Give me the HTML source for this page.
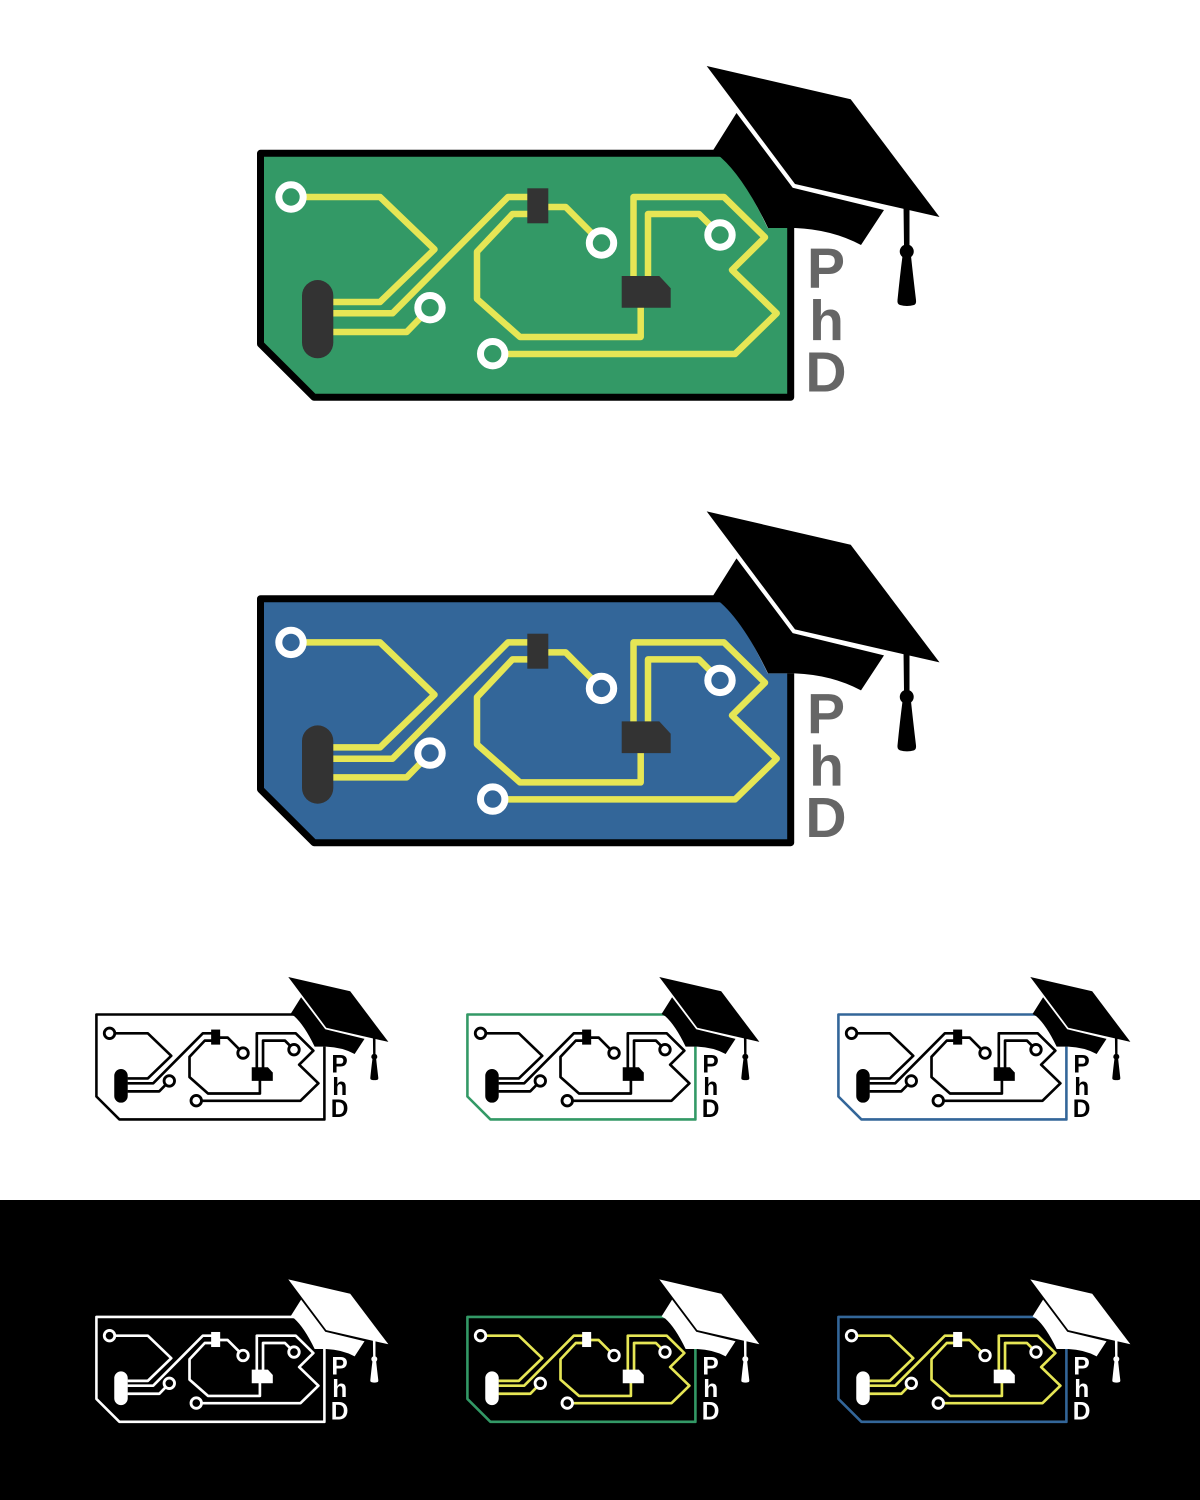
<!DOCTYPE html>
<html><head><meta charset="utf-8"><style>
html,body{margin:0;padding:0;background:#fff}
svg{display:block}
text{font-family:"Liberation Sans",sans-serif;font-weight:700;font-size:57px;text-anchor:middle}
.b{fill:var(--bf);stroke:none}
.o{fill:none;stroke:var(--bs);stroke-width:var(--bw);stroke-linejoin:round}
.t{fill:none;stroke:var(--tr);stroke-width:var(--tw);stroke-linejoin:round}
.p{fill:var(--pf);stroke:var(--ps);stroke-width:var(--pw)}
.c{fill:var(--ch)}
.h{fill:var(--hat)}
.big{--tw:6.5;--bw:7;--pw:7;--bs:#000;--hat:#000;--ch:#333;--tr:#e6e655;--ps:#fff}
.sm{--tw:6.2;--bw:6;--pw:6.6;--bf:none}
</style></head><body>
<svg width="1200" height="1500" viewBox="0 0 1200 1500" xmlns="http://www.w3.org/2000/svg">
<defs><g id="logo">
<path class="b" d="M722 153.3V157.3Q742 174 767.7 228H790.7V397.3H314L260.5 344V153.3Z"/>
<path class="o" d="M790.7 228V397.3H314L260.5 344V153.3H722"/>
<g class="t">
<path d="M291 197H380L434.5 249.3L380 302H333"/>
<path d="M333 313.3H392.5L508 197H530"/>
<path d="M333 332H406.7L430 308"/>
<path d="M530 214H512.5L477 251.7V299L520 337H640.7V300"/>
<path d="M492.7 354H735L776.7 313.3L732 270L765 237.3L724 197H633.5V280"/>
<path d="M648 280V214H699L720 235"/>
<path d="M545 207H565.7L601.5 243"/>
</g>
<circle class="p" cx="291" cy="197" r="12.2"/>
<circle class="p" cx="430" cy="307.7" r="12.2"/>
<circle class="p" cx="492.7" cy="353.7" r="12.2"/>
<circle class="p" cx="601.5" cy="243" r="12.2"/>
<circle class="p" cx="720" cy="235" r="12.2"/>
<rect class="c" x="527.3" y="188.3" width="21" height="35"/>
<rect class="c" x="302" y="280" width="31.3" height="78.3" rx="15.65"/>
<path class="c" d="M621.7 276H659.3L670.7 288.3V307.7H621.7Z"/>
<path class="h" d="M712 152L736.5 113L792.7 187.7L884 210L861 245Q832 229.5 795 228H768Q744 178 720.7 157.3Z"/>
<path class="h" d="M706.7 66L850.7 99.3L939.5 217L795 184Z"/>
<path class="h" d="M903.5 205H909.5V245A7 7 0 1 1 904 245Z"/>
<path class="h" d="M902.5 256H911Q913 275 916 300Q916.5 304 914 305Q907 307 900 305Q897 304 897.5 300Q900 275 902.5 256Z"/>
</g></defs>

<rect x="0" y="0" width="1200" height="1200" fill="#fff"/>
<rect x="0" y="1200" width="1200" height="300" fill="#000"/>

<g class="big" style="--bf:#339966;--pf:#339966">
<use href="#logo"/>
<g fill="#666"><text x="826" y="287.7">P</text><text x="826.5" y="340">h</text><text x="826" y="391.7">D</text></g>
</g>
<g class="big" transform="translate(0 445.4)" style="--bf:#336699;--pf:#336699">
<use href="#logo"/>
<g fill="#666"><text x="826" y="287.7">P</text><text x="826.5" y="340">h</text><text x="826" y="391.7">D</text></g>
</g>

<g class="sm" transform="translate(-15.6 948.6) scale(.43)" style="--bs:#000;--tr:#000;--ps:#000;--pf:#fff;--ch:#000;--hat:#000">
<use href="#logo"/>
<g fill="#000"><text x="826" y="287.7">P</text><text x="826.5" y="340">h</text><text x="826" y="391.7">D</text></g>
</g>
<g class="sm" transform="translate(355.4 948.6) scale(.43)" style="--bs:#339966;--tr:#000;--ps:#000;--pf:#fff;--ch:#000;--hat:#000">
<use href="#logo"/>
<g fill="#000"><text x="826" y="287.7">P</text><text x="826.5" y="340">h</text><text x="826" y="391.7">D</text></g>
</g>
<g class="sm" transform="translate(726.4 948.6) scale(.43)" style="--bs:#336699;--tr:#000;--ps:#000;--pf:#fff;--ch:#000;--hat:#000">
<use href="#logo"/>
<g fill="#000"><text x="826" y="287.7">P</text><text x="826.5" y="340">h</text><text x="826" y="391.7">D</text></g>
</g>

<g class="sm" transform="translate(-15.6 1251) scale(.43)" style="--bs:#fff;--tr:#fff;--ps:#fff;--pf:#000;--ch:#fff;--hat:#fff">
<use href="#logo"/>
<g fill="#fff"><text x="826" y="287.7">P</text><text x="826.5" y="340">h</text><text x="826" y="391.7">D</text></g>
</g>
<g class="sm" transform="translate(355.4 1251) scale(.43)" style="--bs:#339966;--tr:#e6e655;--ps:#fff;--pf:#000;--ch:#fff;--hat:#fff">
<use href="#logo"/>
<g fill="#fff"><text x="826" y="287.7">P</text><text x="826.5" y="340">h</text><text x="826" y="391.7">D</text></g>
</g>
<g class="sm" transform="translate(726.4 1251) scale(.43)" style="--bs:#336699;--tr:#e6e655;--ps:#fff;--pf:#000;--ch:#fff;--hat:#fff">
<use href="#logo"/>
<g fill="#fff"><text x="826" y="287.7">P</text><text x="826.5" y="340">h</text><text x="826" y="391.7">D</text></g>
</g>
</svg>
</body></html>
